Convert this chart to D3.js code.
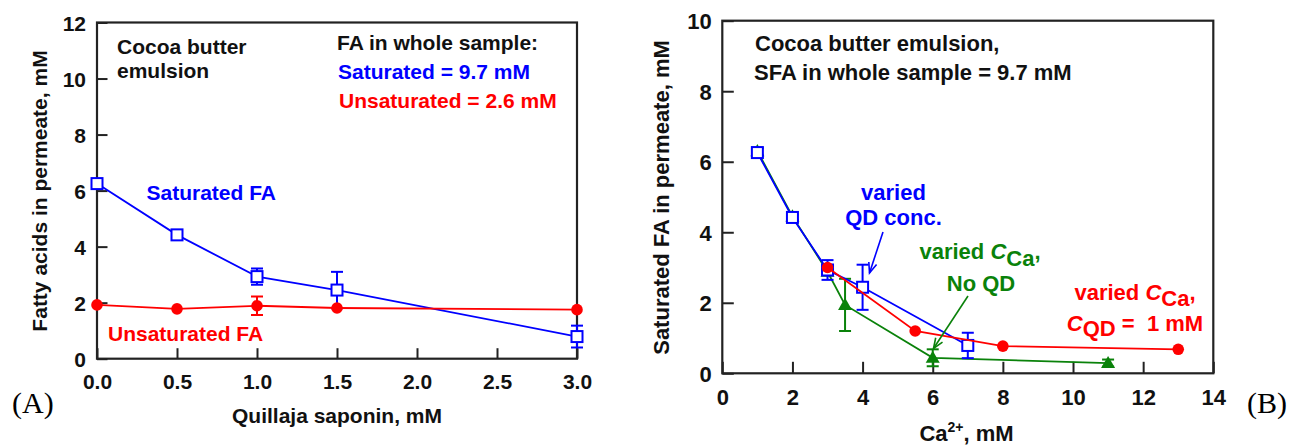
<!DOCTYPE html>
<html><head><meta charset="utf-8">
<script src="https://cdn.jsdelivr.net/npm/d3@7"></script>
<style>
html,body{margin:0;padding:0;background:#fff;}
text{font-family:"Liberation Sans",Arial,sans-serif;font-weight:bold;}
</style></head>
<body>
<svg id="c" width="1290" height="446"></svg>
<script>
// ---------- Panel A data ----------
const quillaja = [0, 0.5, 1.0, 1.5, 3.0];
const satFA    = [6.25, 4.42, 2.93, 2.45, 0.79];
const satErr   = [0.08, 0.08, 0.29, 0.65, 0.39];
const unsatFA  = [1.92, 1.78, 1.89, 1.81, 1.75];
const unsatErr = [0.05, 0.05, 0.33, 0.05, 0.05];
const aXTicks = [0, 0.5, 1.0, 1.5, 2.0, 2.5, 3.0];
const aYTicks = [0, 2, 4, 6, 8, 10, 12];

// ---------- Panel B data ----------
const qdCa   = [1, 2, 3, 4, 7];            // varied QD conc.
const qdSFA  = [6.26, 4.42, 2.93, 2.44, 0.79];
const qdErr  = [0.12, 0.08, 0.28, 0.64, 0.36];
const caQdCa  = [3, 5.5, 8, 13];           // varied C_Ca, C_QD = 1 mM
const caQdSFA = [3.0, 1.2, 0.77, 0.68];
const caNoCa  = [1, 2, 3, 3.5, 6, 11];     // varied C_Ca, no QD
const caNoSFA = [6.3, 4.45, 2.88, 1.94, 0.44, 0.29];
const caNoErr = [0.1, 0.05, 0.05, 0.74, 0.24, 0.1];
const bXTicks = [0, 2, 4, 6, 8, 10, 12, 14];
const bYTicks = [0, 2, 4, 6, 8, 10];

const BLUE = "#0000ff", RED = "#ff0000", GREEN = "#0a820a";
const svg = d3.select("#c");

function panel(cfg) {
  const g = svg.append("g");
  const x = d3.scaleLinear().domain(cfg.xd).range([cfg.l, cfg.r]);
  const y = d3.scaleLinear().domain(cfg.yd).range([cfg.b, cfg.t]);
  const ax = g.append("g").attr("transform", `translate(0,${cfg.b})`)
    .call(d3.axisBottom(x).tickValues(cfg.xt).tickFormat(cfg.xf).tickSize(-cfg.tl).tickPadding(cfg.xpad));
  const ay = g.append("g").attr("transform", `translate(${cfg.l},0)`)
    .call(d3.axisLeft(y).tickValues(cfg.yt).tickFormat(d3.format("d")).tickSize(-cfg.tl).tickPadding(cfg.ypad));
  [ax, ay].forEach(a => {
    a.select(".domain").remove();
    a.selectAll("line").attr("stroke", "#222").attr("stroke-width", 2);
    a.selectAll("text").attr("fill", "#111").style("font-size", cfg.fs + "px")
      .style("font-family", '"Liberation Sans", Arial, sans-serif').style("font-weight", "bold");
  });
  ay.selectAll("text").attr("dy", "0.36em");
  g.append("rect").attr("x", cfg.l).attr("y", cfg.t).attr("width", cfg.r - cfg.l).attr("height", cfg.b - cfg.t)
    .attr("fill", "none").attr("stroke", "#222").attr("stroke-width", 2.2);
  return {g, x, y};
}

function series(p, xs, ys, errs, color, marker) {
  const pts = xs.map((v, i) => ({x: v, y: ys[i], e: errs ? errs[i] : 0}));
  const line = d3.line().x(d => p.x(d.x)).y(d => p.y(d.y));
  p.g.append("path").datum(pts).attr("d", line).attr("fill", "none")
    .attr("stroke", color).attr("stroke-width", 1.8);
  if (errs) {
    const eb = p.g.append("g").attr("stroke", color).attr("stroke-width", 2);
    pts.forEach(d => {
      if (d.e <= 0.06) return;
      const cx = p.x(d.x), y1 = p.y(d.y + d.e), y2 = p.y(d.y - d.e);
      eb.append("line").attr("x1", cx).attr("x2", cx).attr("y1", y1).attr("y2", y2);
      eb.append("line").attr("x1", cx - 6).attr("x2", cx + 6).attr("y1", y1).attr("y2", y1);
      eb.append("line").attr("x1", cx - 6).attr("x2", cx + 6).attr("y1", y2).attr("y2", y2);
    });
  }
  const mk = p.g.append("g");
  pts.forEach(d => {
    const cx = p.x(d.x), cy = p.y(d.y);
    if (marker === "square") {
      mk.append("rect").attr("x", cx - 5.5).attr("y", cy - 5.5).attr("width", 11).attr("height", 11)
        .attr("fill", "#fff").attr("stroke", color).attr("stroke-width", 2);
    } else if (marker === "circle") {
      mk.append("circle").attr("cx", cx).attr("cy", cy).attr("r", 5.8).attr("fill", color);
    } else {
      mk.append("path").attr("d", d3.symbol(d3.symbolTriangle, 85)())
        .attr("transform", `translate(${cx},${cy + 1})`).attr("fill", color);
    }
  });
}

function txt(x, y, s, color, size, anchor) {
  return svg.append("text").attr("x", x).attr("y", y).attr("fill", color)
    .attr("text-anchor", anchor || "start").style("font-size", size + "px").text(s);
}

// ---------- Panel A ----------
const A = panel({xd: [0, 3], yd: [0, 12], l: 97, r: 577, t: 22.5, b: 358.7,
  xt: aXTicks, yt: aYTicks, xf: d3.format(".1f"), tl: 10.5, xpad: 15, ypad: 11, fs: 21});
series(A, quillaja, satFA, satErr, BLUE, "square");
series(A, quillaja, unsatFA, unsatErr, RED, "circle");

txt(117, 54, "Cocoa butter", "#111", 21);
txt(117, 77.5, "emulsion", "#111", 21);
txt(337, 50, "FA in whole sample:", "#111", 21);
txt(338, 79, "Saturated = 9.7 mM", BLUE, 21);
txt(339, 108, "Unsaturated = 2.6 mM", RED, 21);
txt(146.5, 199.5, "Saturated FA", BLUE, 21);
txt(108, 341, "Unsaturated FA", RED, 21);
txt(337, 423, "Quillaja saponin, mM", "#111", 21, "middle");
svg.append("text").attr("transform", "translate(47,191) rotate(-90)").attr("text-anchor", "middle")
  .attr("fill", "#111").style("font-size", "21px").text("Fatty acids in permeate, mM");
svg.append("text").attr("x", 12).attr("y", 413).attr("fill", "#000")
  .style("font-family", '"Liberation Serif", "Times New Roman", serif').style("font-weight", "normal")
  .style("font-size", "30px").text("(A)");

// ---------- Panel B ----------
const B = panel({xd: [0, 14], yd: [0, 10], l: 722.3, r: 1213.3, t: 20.7, b: 373.3,
  xt: bXTicks, yt: bYTicks, xf: d3.format("d"), tl: 11.5, xpad: 16.5, ypad: 10.6, fs: 22});
series(B, caNoCa, caNoSFA, caNoErr, GREEN, "triangle");
series(B, qdCa, qdSFA, qdErr, BLUE, "square");
series(B, caQdCa, caQdSFA, null, RED, "circle");

txt(755, 51, "Cocoa butter emulsion,", "#111", 22);
txt(754, 80, "SFA in whole sample = 9.7 mM", "#111", 22);
txt(893.5, 200, "varied", BLUE, 22, "middle");
txt(893.5, 225, "QD conc.", BLUE, 22, "middle");

function subLabel(x, y, pre, sub, post, color, dy) {
  const t = txt(x, y, "", color, 22, "middle");
  if (pre) t.append("tspan").text(pre);
  t.append("tspan").style("font-style", "italic").text("C");
  t.append("tspan").attr("dy", dy).text(sub);
  t.append("tspan").attr("dy", -dy).text(post);
  return t;
}
subLabel(980, 259, "varied ", "Ca", ",", GREEN, 7);
txt(981, 291, "No QD", GREEN, 22, "middle");
subLabel(1135, 300, "varied ", "Ca", ",", RED, 6);
subLabel(1135, 331, "", "QD", " =\u00a0 1 mM", RED, 5);

// x-axis title with superscript
const bt = txt(966.5, 441, "Ca", "#111", 22, "middle");
bt.append("tspan").attr("dy", -9).style("font-size", "14px").text("2+");
bt.append("tspan").attr("dy", 9).text(", mM");
svg.append("text").attr("transform", "translate(669,197.5) rotate(-90)").attr("text-anchor", "middle")
  .attr("fill", "#111").style("font-size", "22px").text("Saturated FA in permeate, mM");
svg.append("text").attr("x", 1247).attr("y", 413).attr("fill", "#000")
  .style("font-family", '"Liberation Serif", "Times New Roman", serif').style("font-weight", "normal")
  .style("font-size", "30px").text("(B)");

// arrows
function arrow(x1, y1, x2, y2, color) {
  const g = svg.append("g").attr("stroke", color).attr("stroke-width", 1.6).attr("fill", "none");
  g.append("line").attr("x1", x1).attr("y1", y1).attr("x2", x2).attr("y2", y2);
  const a = Math.atan2(y2 - y1, x2 - x1), L = 11, w = 0.38;
  g.append("path").attr("d",
    `M${x2 - L * Math.cos(a - w)},${y2 - L * Math.sin(a - w)} L${x2},${y2} L${x2 - L * Math.cos(a + w)},${y2 - L * Math.sin(a + w)}`);
}
arrow(883, 232, 869.5, 273, BLUE);
arrow(968, 296, 933.5, 348.5, GREEN);
</script>
</body></html>
